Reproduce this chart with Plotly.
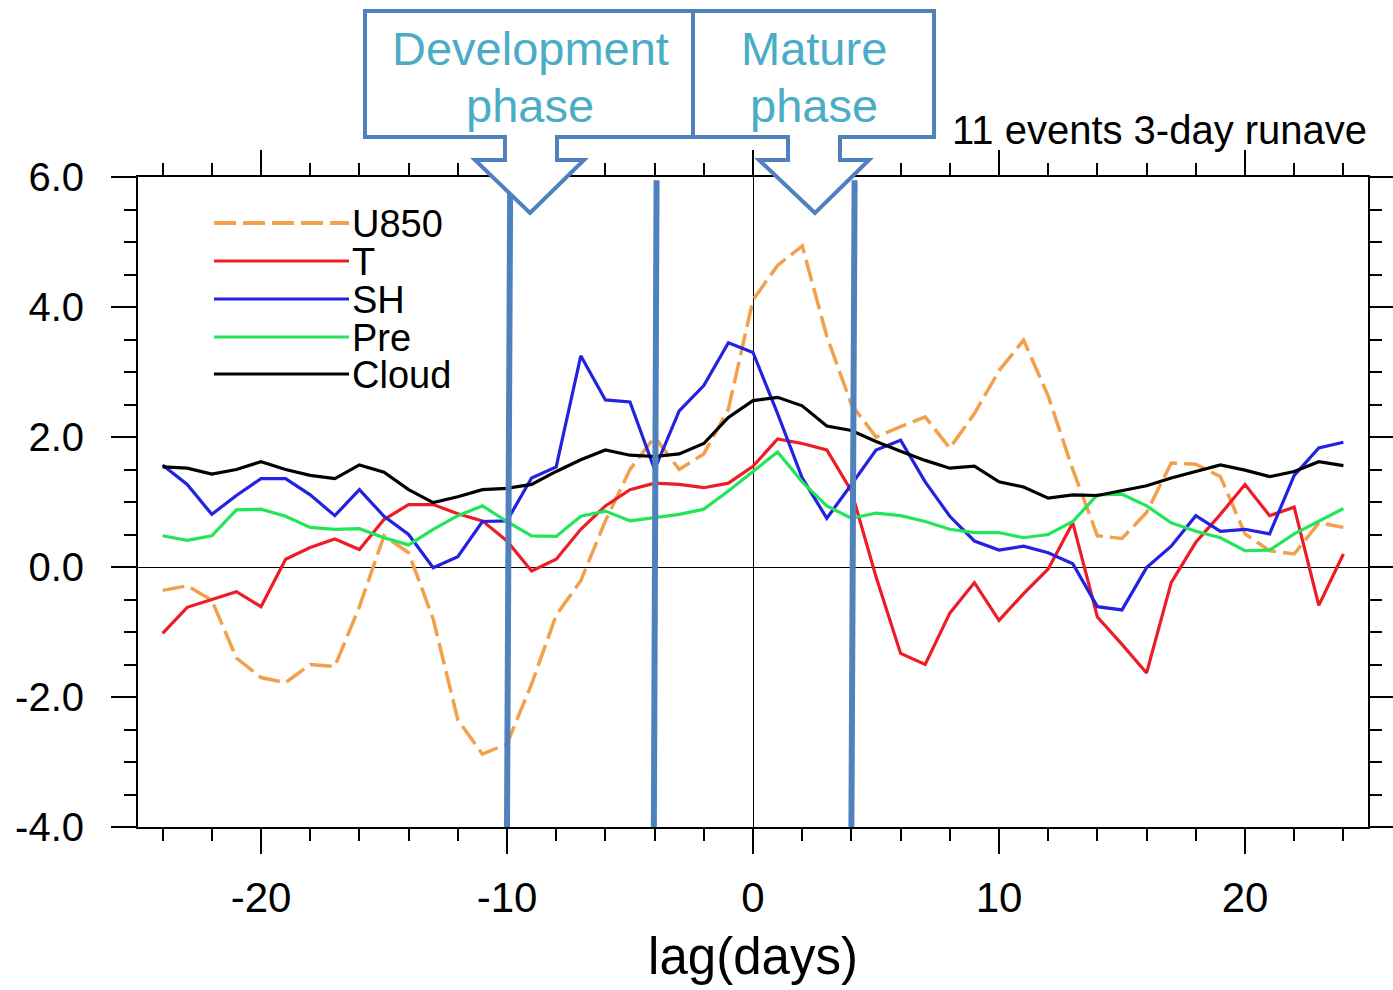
import plotly.graph_objects as go

lag = list(range(-24, 25))
u850 = [-0.36, -0.29, -0.51, -1.40, -1.70, -1.78, -1.50, -1.53, -0.61, 0.48, 0.22, -0.80, -2.35,
        -2.88, -2.72, -1.80, -0.74, -0.21, 0.71, 1.50, 2.00, 1.50, 1.74, 2.43, 4.11,
        4.64, 4.94, 3.55, 2.50, 2.00, 2.16, 2.31, 1.83, 2.36, 3.02, 3.49, 2.63, 1.50,
        0.48, 0.44, 0.84, 1.60, 1.58, 1.39, 0.51, 0.25, 0.20, 0.68, 0.61]
t_vals = [-1.02, -0.62, -0.50, -0.38, -0.61, 0.12, 0.30, 0.43, 0.27, 0.73, 0.96, 0.96, 0.82,
          0.71, 0.40, -0.06, 0.12, 0.58, 0.94, 1.19, 1.29, 1.27, 1.22, 1.29, 1.55,
          1.97, 1.90, 1.80, 1.17, -0.15, -1.33, -1.50, -0.71, -0.24, -0.82, -0.41, -0.03, 0.68,
          -0.77, -1.19, -1.63, -0.24, 0.38, 0.81, 1.27, 0.79, 0.92, -0.59, 0.20]
sh = [1.57, 1.27, 0.81, 1.10, 1.36, 1.36, 1.11, 0.79, 1.19, 0.78, 0.50, -0.01, 0.16,
      0.70, 0.71, 1.37, 1.54, 3.25, 2.57, 2.54, 1.50, 2.40, 2.79, 3.45, 3.30,
      2.36, 1.37, 0.75, 1.27, 1.80, 1.95, 1.31, 0.78, 0.40, 0.26, 0.32, 0.22, 0.05,
      -0.61, -0.66, -0.01, 0.32, 0.79, 0.55, 0.58, 0.51, 1.41, 1.83, 1.92]
pre = [0.48, 0.41, 0.48, 0.88, 0.89, 0.78, 0.61, 0.58, 0.59, 0.45, 0.34, 0.58, 0.79,
       0.94, 0.70, 0.48, 0.47, 0.78, 0.86, 0.71, 0.76, 0.81, 0.89, 1.17, 1.47,
       1.77, 1.31, 0.94, 0.75, 0.83, 0.79, 0.70, 0.58, 0.53, 0.53, 0.45, 0.50, 0.70,
       1.11, 1.12, 0.94, 0.68, 0.55, 0.45, 0.25, 0.26, 0.51, 0.70, 0.90]
cloud = [1.54, 1.52, 1.43, 1.50, 1.62, 1.50, 1.41, 1.36, 1.57, 1.46, 1.19, 0.99, 1.08,
         1.19, 1.21, 1.27, 1.47, 1.65, 1.80, 1.72, 1.70, 1.74, 1.90, 2.30, 2.56,
         2.61, 2.48, 2.17, 2.10, 1.93, 1.78, 1.64, 1.52, 1.55, 1.31, 1.23, 1.06, 1.11,
         1.10, 1.17, 1.25, 1.37, 1.47, 1.57, 1.49, 1.39, 1.47, 1.62, 1.56]

series_names = ["U850", "T", "SH", "Pre", "Cloud"]
series_colors = ["#F2A04C", "#EE1C25", "#2222E0", "#22E65A", "#000000"]
series_dash = ["22px,7px", "solid", "solid", "solid", "solid"]
series_data = [u850, t_vals, sh, pre, cloud]

x_tickvals = [-20, -10, 0, 10, 20]
x_ticktext = ["-20", "-10", "0", "10", "20"]
y_tickvals = [-4, -2, 0, 2, 4, 6]
y_ticktext = ["-4.0", "-2.0", "0.0", "2.0", "4.0", "6.0"]

phase_bottom = [-10.0, -4.03, 4.0]
phase_top = [-9.87, -3.92, 4.13]
phase_labels = [["Development", "phase"], ["Mature", "phase"]]
title_text = "11 events 3-day runave"

W, H = 1393, 990
L, R, T, B = 138, 1368, 177, 827
FONT = "Liberation Sans, Arial, Helvetica, sans-serif"


def px(x):
    return (x - L) / (R - L)


def py(y):
    return (B - y) / (B - T)


fig = go.Figure()
for name, col, dash, data in zip(series_names, series_colors, series_dash, series_data):
    fig.add_trace(go.Scatter(x=lag, y=data, mode="lines", name=name,
                             line=dict(color=col, width=3.5 if name == "U850" else 3.2, dash=dash),
                             showlegend=False))

shapes = []
for xb, xt in zip(phase_bottom, phase_top):
    shapes.append(dict(type="line", xref="x", yref="y", x0=xb, y0=-4.0, x1=xt, y1=5.95,
                       line=dict(color="#4F81BD", width=6), layer="above"))


def path_from(pts):
    return "M " + " L ".join(f"{px(a):.5f},{py(b):.5f}" for a, b in pts) + " Z"


dev_pts = [(365, 11), (693, 11), (693, 137), (557, 137), (557, 160), (584, 160), (530, 213),
           (475, 160), (505, 160), (505, 137), (365, 137)]
mat_pts = [(693, 11), (934, 11), (934, 137), (840, 137), (840, 160), (869, 160), (815, 213),
           (759, 160), (788, 160), (788, 137), (693, 137)]
for pts in (dev_pts, mat_pts):
    shapes.append(dict(type="path", xref="paper", yref="paper", path=path_from(pts),
                       fillcolor="white", line=dict(color="#4F81BD", width=4), layer="above"))

leg_y = [223, 261, 299, 337, 374]
annotations = []
for name, col, dash, yy in zip(series_names, series_colors, series_dash, leg_y):
    shapes.append(dict(type="line", xref="paper", yref="paper", x0=px(214), x1=px(349),
                       y0=py(yy), y1=py(yy),
                       line=dict(color=col, width=4 if name == "U850" else 3, dash=dash)))
    annotations.append(dict(text=name, xref="paper", yref="paper", x=px(350), y=py(yy + 1),
                            xanchor="left", yanchor="middle", showarrow=False,
                            font=dict(family=FONT, size=38, color="black")))

for (l1, l2), cx in zip(phase_labels, [530, 814]):
    annotations.append(dict(text=l1, xref="paper", yref="paper", x=px(cx), y=py(48),
                            xanchor="center", yanchor="middle", showarrow=False,
                            font=dict(family=FONT, size=47, color="#4BACC6")))
    annotations.append(dict(text=l2, xref="paper", yref="paper", x=px(cx), y=py(106),
                            xanchor="center", yanchor="middle", showarrow=False,
                            font=dict(family=FONT, size=47, color="#4BACC6")))

annotations.append(dict(text=title_text, xref="paper", yref="paper", x=px(1369), y=py(130),
                        xanchor="right", yanchor="middle", showarrow=False,
                        font=dict(family=FONT, size=40, color="black")))

fig.update_layout(
    width=W, height=H,
    margin=dict(l=L, r=W - R, t=T, b=H - B, pad=0, autoexpand=False),
    paper_bgcolor="white", plot_bgcolor="white",
    shapes=shapes, annotations=annotations,
    font=dict(family=FONT, color="black"),
    xaxis=dict(range=[-25, 25], tickmode="array", tickvals=x_tickvals, ticktext=x_ticktext,
               ticks="outside", ticklen=25, tickwidth=2, tickcolor="black",
               showline=True, linecolor="black", linewidth=2, mirror="ticks",
               showgrid=False, zeroline=True, zerolinecolor="black", zerolinewidth=1,
               automargin=False,
               tickfont=dict(family=FONT, size=42, color="black"), ticklabelstandoff=8,
               minor=dict(tickmode="linear", tick0=0, dtick=2, ticks="outside", ticklen=12,
                          tickwidth=1.5, tickcolor="black", showgrid=False),
               title=dict(text="lag(days)", font=dict(family=FONT, size=51, color="black"),
                          standoff=18)),
    yaxis=dict(range=[-4, 6], tickmode="array", tickvals=y_tickvals, ticktext=y_ticktext,
               ticks="outside", ticklen=25, tickwidth=2, tickcolor="black",
               showline=True, linecolor="black", linewidth=2, mirror="ticks",
               showgrid=False, zeroline=True, zerolinecolor="black", zerolinewidth=1,
               automargin=False,
               tickfont=dict(family=FONT, size=40, color="black"), ticklabelstandoff=19,
               minor=dict(tickmode="linear", tick0=0, dtick=0.5, ticks="outside", ticklen=12,
                          tickwidth=1.5, tickcolor="black", showgrid=False)),
)

fig.write_html("out.html")
